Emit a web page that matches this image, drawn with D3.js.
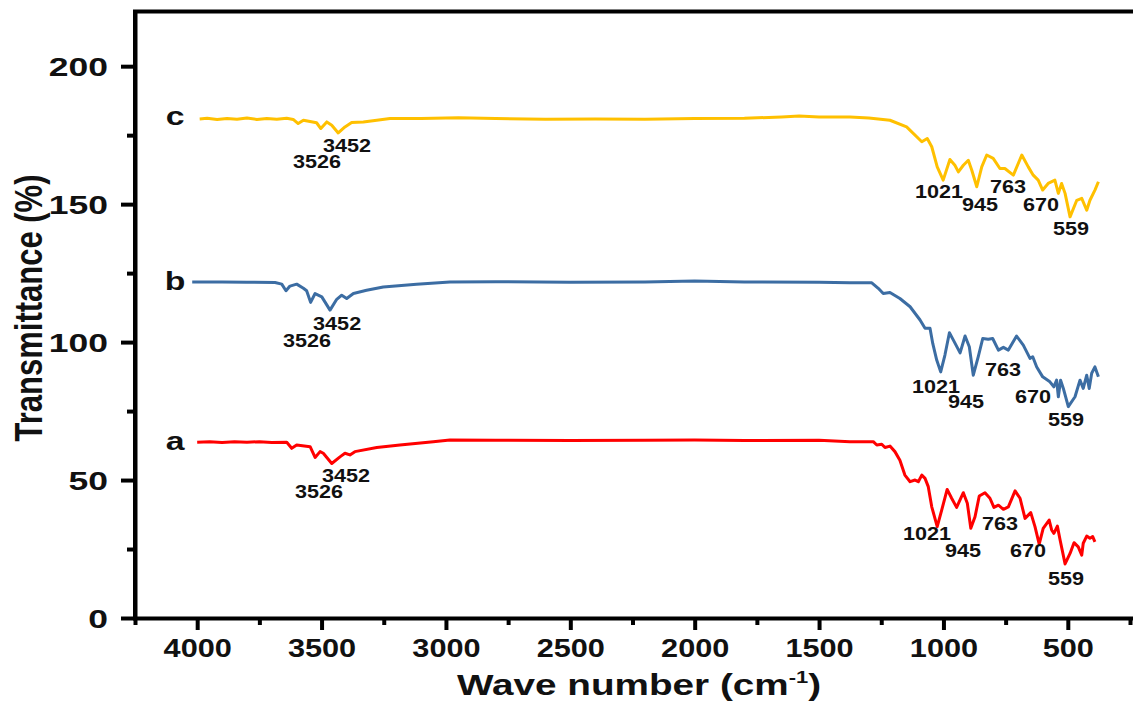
<!DOCTYPE html>
<meta charset="utf-8">
<head>
<title>FTIR spectra a, b, c</title>
<script src="https://d3js.org/d3.v7.min.js"></script>
<style>
  body { margin: 0; background: #fff; }
  text { font-family: "Liberation Sans", Arial, sans-serif; font-weight: bold; fill: #111; }
  .spec { fill: none; stroke-width: 3; stroke-linejoin: round; }
</style>
</head>
<body>
<svg width="1133" height="704"></svg>
<script>
// wave number (cm-1), transmittance (%)
var seriesA = [[4000,63.7],[3950,63.9],[3900,63.6],[3850,63.9],[3800,63.7],[3750,63.9],[3700,63.6],[3640,63.7],
  [3620,61.5],[3600,62.7],[3546,62.1],[3526,58.2],[3506,60.3],[3493,59.7],[3459,56],[3426,58.4],[3406,59.7],
  [3386,59.1],[3366,60.3],[3278,61.8],[3185,62.7],[3051,63.9],[2984,64.5],[2800,64.4],[2500,64.3],[2200,64.4],
  [2000,64.5],[1800,64.3],[1500,64.4],[1376,63.9],[1282,63.9],[1268,62.7],[1248,63],[1235,61.8],[1215,62.3],
  [1195,60.3],[1175,57.2],[1155,51.8],[1134,49.4],[1114,50],[1101,49.4],[1087,51.8],[1074,50.6],[1061,47.6],
  [1047,40.3],[1025,33.1],[1007,39.1],[985,46.6],[967,43.4],[947,40.1],[920,45.4],[904,41.6],[890,32.5],
  [873,36.7],[856,44.2],[833,45.4],[813,43.4],[797,40.1],[779,40.9],[759,39.4],[739,40.3],[712,46.1],
  [692,43.4],[672,36.1],[649,38.2],[632,33.1],[615,26.8],[599,32.5],[575,35.5],[565,31.9],[556,30.7],
  [542,33.3],[531,28.3],[511,19.6],[491,23.4],[475,27.3],[458,25.8],[444,22.8],[438,27.1],[424,29.7],
  [411,28.9],[400,29.5],[391,27.6]];

var seriesB = [[4020,121.8],[3900,121.8],[3800,121.7],[3687,121.6],[3660,121],[3643,118.6],[3627,120.3],
  [3600,121],[3573,119.5],[3560,118.6],[3544,114.4],[3526,117.6],[3499,116.4],[3466,111.6],[3439,115.5],
  [3419,117],[3399,115.8],[3372,117.6],[3319,118.8],[3252,120],[3118,121],[2984,121.8],[2800,121.9],
  [2500,121.7],[2200,121.8],[2000,122.1],[1800,121.8],[1500,121.7],[1376,121.5],[1288,121.5],[1262,119.5],
  [1242,117.6],[1215,118],[1175,115.8],[1134,112.8],[1094,108],[1074,105],[1054,105],[1043,99.5],
  [1027,93.5],[1011,89.2],[994,95.3],[976,103.4],[960,100.7],[933,96.1],[913,102.2],[896,98.3],[880,88],
  [860,94.7],[842,101.3],[820,101],[802,101.3],[779,97.1],[759,98.1],[739,97.1],[706,102.2],[679,98.9],
  [652,94.1],[641,94.7],[625,91],[601,87.4],[572,85.6],[556,83.8],[545,86.2],[538,80.2],[529,86.2],
  [518,83.2],[498,76.6],[471,80.2],[451,86.2],[438,83.2],[424,88],[414,83.2],[404,88.7],[391,91],[377,87.4]];

var seriesC = [[3990,180.9],[3960,181.1],[3920,180.7],[3880,181.0],[3840,180.8],[3800,181.2],[3760,180.7],
  [3720,181.0],[3680,180.8],[3640,181.1],[3614,180.7],[3594,179.2],[3573,180.4],[3520,179.5],[3503,177.4],
  [3479,179.8],[3459,178.6],[3433,175.8],[3406,178],[3379,179.6],[3332,179.8],[3278,180.4],[3225,181],
  [3100,181],[2950,181.3],[2800,181],[2600,180.8],[2400,180.9],[2200,180.8],[2000,181],[1800,181.1],
  [1650,181.6],[1580,181.9],[1500,181.6],[1376,181.6],[1300,181.2],[1215,180.4],[1148,178],[1087,172.6],
  [1065,173.8],[1047,170.8],[1025,163.5],[1001,158.7],[974,166.2],[954,164.1],[940,161.7],[920,164.1],
  [900,165.9],[886,162.3],[866,156.3],[846,163.5],[826,167.8],[800,166.6],[773,162.9],[753,162.9],
  [719,160.5],[685,167.8],[659,163.5],[639,160.5],[619,158.7],[601,155.1],[579,157.5],[552,158.7],
  [538,153.9],[525,157.5],[511,153.9],[491,145.4],[464,151.4],[444,152.1],[424,147.8],[411,151.4],
  [391,155.1],[377,158.1]];

var seriesNames = ["a", "b", "c"];
var seriesColors = ["#ff0000", "#3c6da3", "#ffc000"];
var seriesData = [seriesA, seriesB, seriesC];
// where each series letter sits (wave number, transmittance)
var nameAt = [[4089, 60.9], [4089, 118.8], [4089, 178.6]];

// peak labels: text, wave number and transmittance of the label's start
var peaksA = [["3452",3498,49.4],["3526",3607,43.5],["1021",1163,28.3],["945",994,22.1],
  ["763",845,31.9],["670",732,22.1],["559",580,12]];
var peaksB = [["3452",3534,104.3],["3526",3655,98.2],["1021",1126,81.5],["945",982,76.1],
  ["763",833,87.7],["670",712,77.9],["559",580,69.6]];
var peaksC = [["3452",3494,169],["3526",3615,163],["1021",1114,152.2],["945",925,147.5],
  ["763",813,154],["670",680,147.5],["559",560,138.8]];

var xMajor = [4000, 3500, 3000, 2500, 2000, 1500, 1000, 500];
var xMinor = [4250, 3750, 3250, 2750, 2250, 1750, 1250, 750, 250];
var yMajor = [0, 50, 100, 150, 200];
var yMinor = [25, 75, 125, 175];

var svg = d3.select("svg");
var x = d3.scaleLinear().domain([4250, 250]).range([135, 1130]);
var y = d3.scaleLinear().domain([0, 220]).range([618, 11]);

var line = d3.line()
    .x(function (d) { return x(d[0]); })
    .y(function (d) { return y(d[1]); });

// frame (right side falls outside the picture)
svg.append("path")
    .attr("d", "M135,618V11.5H1140")
    .attr("fill", "none").attr("stroke", "#000").attr("stroke-width", 4);

// minor ticks
svg.append("g").attr("transform", "translate(0,618)")
    .call(d3.axisBottom(x).tickValues(xMinor).tickSize(7).tickFormat("").tickSizeOuter(0))
    .call(function (g) { g.select(".domain").remove(); g.selectAll("line").attr("stroke-width", 4); });
svg.append("g").attr("transform", "translate(135,0)")
    .call(d3.axisLeft(y).tickValues(yMinor).tickSize(8).tickFormat("").tickSizeOuter(0))
    .call(function (g) { g.select(".domain").remove(); g.selectAll("line").attr("stroke-width", 4); });

// major ticks + labels
var xa = svg.append("g").attr("transform", "translate(0,618)")
    .call(d3.axisBottom(x).tickValues(xMajor).tickFormat(d3.format("d")).tickSize(12).tickSizeOuter(0));
xa.select(".domain").attr("d", "M133,0.5H1140").attr("stroke-width", 4);
xa.selectAll("line").attr("stroke-width", 4);
xa.selectAll("text")
    .attr("y", 39).attr("dy", null)
    .attr("transform", "scale(1.18,1)")
    .style("font-size", "26px").attr("fill", "#111");

var ya = svg.append("g").attr("transform", "translate(135,0)")
    .call(d3.axisLeft(y).tickValues(yMajor).tickSize(14).tickSizeOuter(0));
ya.select(".domain").attr("d", "M0.5,620V10").attr("stroke-width", 4);
ya.selectAll("line").attr("stroke-width", 4);
ya.selectAll("text")
    .attr("x", -19).attr("dy", "0.36em")
    .attr("transform", "scale(1.42,1)")
    .style("font-size", "25px").attr("fill", "#111");
svg.selectAll(".tick text").attr("font-family", null).attr("font-size", null);

// spectra
seriesData.forEach(function (s, i) {
    svg.append("path").datum(s)
        .attr("class", "spec")
        .attr("stroke", seriesColors[i])
        .attr("d", line);

    svg.append("text")
        .attr("transform", "translate(" + x(nameAt[i][0]) + "," + y(nameAt[i][1]) + ") scale(1.3,1)")
        .attr("text-anchor", "middle")
        .style("font-size", "26px")
        .text(seriesNames[i]);
});

[peaksA, peaksB, peaksC].forEach(function (peaks) {
    svg.append("g").selectAll("text")
        .data(peaks)
        .enter().append("text")
        .attr("transform", function (d) { return "translate(" + x(d[1]) + "," + y(d[2]) + ") scale(1.2,1)"; })
        .style("font-size", "18px")
        .text(function (d) { return d[0]; });
});

// axis titles
var xt = svg.append("text")
    .attr("transform", "translate(639,695) scale(1.29,1)")
    .attr("text-anchor", "middle")
    .style("font-size", "30px");
xt.append("tspan").text("Wave number (cm");
xt.append("tspan").attr("dy", -12).style("font-size", "17px").text("-1");
xt.append("tspan").attr("dy", 12).text(")");

svg.append("text")
    .attr("transform", "translate(42,308) scale(1.24,1) rotate(-90)")
    .attr("text-anchor", "middle")
    .style("font-size", "31px")
    .text("Transmittance (%)");
</script>
</body>
</html>
